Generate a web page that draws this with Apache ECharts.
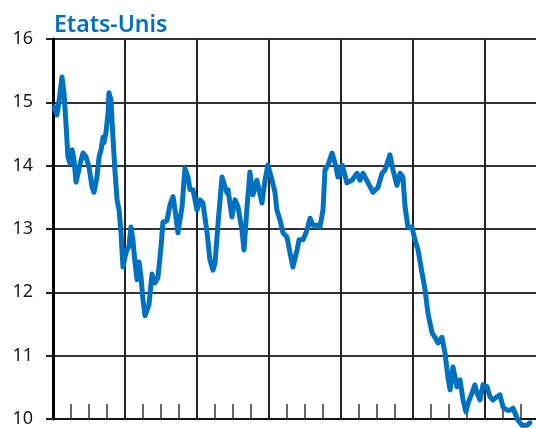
<!DOCTYPE html>
<html>
<head>
<meta charset="utf-8">
<script src="https://cdn.jsdelivr.net/npm/echarts@6/dist/echarts.min.js"></script>
<style>
  html, body { margin: 0; padding: 0; background: #fff; overflow: hidden; width: 536px; height: 428px; }
  /* the plot area continues past the right edge of the page, as in the printed chart */
  #chart { width: 557px; height: 428px; }
</style>
</head>
<body>
<div id="chart"></div>
<script>
// Time position in years from the start of the series
const years = [
  0.06, 0.22, 0.33, 0.50, 0.61, 0.72, 0.83, 0.94, 1.06, 1.17,
  1.28, 1.39, 1.56, 1.67, 1.83, 2.00, 2.17, 2.28, 2.44, 2.56,
  2.67, 2.78, 2.83, 2.94, 3.06, 3.11, 3.22, 3.33, 3.44, 3.56,
  3.67, 3.78, 3.83, 3.89, 4.00, 4.11, 4.22, 4.33, 4.44, 4.56,
  4.67, 4.78, 4.89, 5.00, 5.11, 5.22, 5.33, 5.50, 5.67, 5.83,
  6.00, 6.11, 6.33, 6.50, 6.67, 6.78, 6.94, 7.17, 7.33, 7.50,
  7.61, 7.78, 8.00, 8.17, 8.33, 8.56, 8.72, 8.89, 9.00, 9.17,
  9.39, 9.56, 9.67, 9.72, 9.94, 10.11, 10.28, 10.50, 10.61, 10.78,
  10.94, 11.11, 11.33, 11.61, 11.78, 11.94, 12.17, 12.33, 12.44, 12.61,
  12.78, 13.00, 13.17, 13.33, 13.56, 13.67, 13.89, 14.11, 14.28, 14.44,
  14.67, 14.83, 15.00, 15.11, 15.28, 15.50, 15.67, 15.83, 16.06, 16.33,
  16.61, 16.89, 17.06, 17.22, 17.50, 17.78, 18.06, 18.28, 18.44, 18.72,
  18.89, 19.11, 19.28, 19.44, 19.56, 19.72, 19.94, 20.11, 20.28, 20.50,
  20.67, 20.83, 21.06, 21.22, 21.39, 21.61, 21.78, 21.94, 22.06, 22.22,
  22.44, 22.61, 22.78, 22.94, 23.06, 23.28, 23.44, 23.56, 23.72, 23.89,
  24.11, 24.28, 24.44, 24.67, 24.83, 25.00, 25.22, 25.39, 25.56, 25.72,
  25.83, 26.06, 26.33, 26.50
];

// Series values, Etats-Unis
const values = [
  14.93, 14.80, 15.01, 15.40, 15.15, 14.67, 14.14, 14.04, 14.25, 14.09,
  13.74, 13.74, 14.09, 14.20, 14.14, 13.98, 13.66, 13.58, 13.82, 14.14,
  14.25, 14.45, 14.36, 14.52, 14.83, 15.15, 15.04, 14.45, 13.93, 13.46,
  13.30, 12.94, 12.67, 12.40, 12.56, 12.67, 12.72, 13.03, 12.83, 12.46,
  12.20, 12.48, 12.24, 11.88, 11.63, 11.64, 11.80, 12.29, 12.15, 12.23,
  12.72, 13.11, 13.13, 13.38, 13.51, 13.30, 12.94, 13.35, 13.96, 13.82,
  13.62, 13.62, 13.30, 13.46, 13.41, 12.94, 12.51, 12.35, 12.46, 13.09,
  13.82, 13.66, 13.57, 13.62, 13.19, 13.46, 13.35, 12.98, 12.67, 13.35,
  13.90, 13.54, 13.77, 13.41, 13.77, 14.01, 13.77, 13.58, 13.30, 13.14,
  12.94, 12.87, 12.62, 12.40, 12.67, 12.83, 12.83, 12.98, 13.17, 13.06,
  13.06, 13.03, 13.30, 13.93, 14.01, 14.20, 14.04, 13.82, 14.01, 13.73,
  13.77, 13.88, 13.77, 13.88, 13.73, 13.58, 13.66, 13.88, 13.93, 14.17,
  13.93, 13.69, 13.88, 13.82, 13.35, 13.03, 13.03, 12.83, 12.67, 12.31,
  12.04, 11.67, 11.36, 11.29, 11.20, 11.29, 11.04, 10.66, 10.46, 10.82,
  10.51, 10.62, 10.30, 10.11, 10.25, 10.41, 10.54, 10.41, 10.30, 10.54,
  10.51, 10.35, 10.30, 10.35, 10.38, 10.19, 10.14, 10.14, 10.17, 10.06,
  9.98, 9.90, 9.90, 9.94
];

const yTicks = [10, 11, 12, 13, 14, 15, 16];
const title = 'Etats-Unis';

const blue = '#0070c0';
const chart = echarts.init(document.getElementById('chart'), null, { renderer: 'canvas' });

chart.setOption({
  animation: false,
  backgroundColor: '#ffffff',
  title: {
    text: title,
    left: 54,
    top: 14,
    padding: 0,
    textStyle: {
      color: blue,
      fontFamily: 'Noto Sans',
      fontWeight: 600,
      fontSize: 23
    }
  },
  // 28 years at 18 px each
  grid: { left: 53, top: 39, right: 0, bottom: 9, containLabel: false },
  xAxis: {
    type: 'value',
    min: 0,
    max: 28,
    interval: 4,
    axisLine: { show: true, onZero: false, lineStyle: { color: '#111', width: 2 } },
    axisTick: { show: false, inside: true },
    minorTick: { show: true, splitNumber: 4, length: 15, lineStyle: { color: '#333', width: 1.5 } },
    axisLabel: { show: false },
    splitLine: { show: true, lineStyle: { color: '#222', width: 2 } }
  },
  yAxis: {
    type: 'value',
    min: yTicks[0],
    max: yTicks[yTicks.length - 1],
    interval: 1,
    axisLine: { show: true, lineStyle: { color: '#000', width: 3 } },
    axisTick: { show: true, inside: false, length: 7, lineStyle: { color: '#222', width: 2 } },
    axisLabel: {
      margin: 20,
      color: '#1a1a1a',
      fontFamily: 'Noto Sans',
      fontSize: 18
    },
    splitLine: { show: true, lineStyle: { color: '#333', width: 2 } }
  },
  series: [{
    type: 'line',
    data: years.map((x, i) => [x, values[i]]),
    showSymbol: false,
    clip: false,
    smooth: false,
    lineStyle: { color: blue, width: 5, join: 'round', cap: 'round' },
    z: 5
  }]
});
</script>
</body>
</html>
